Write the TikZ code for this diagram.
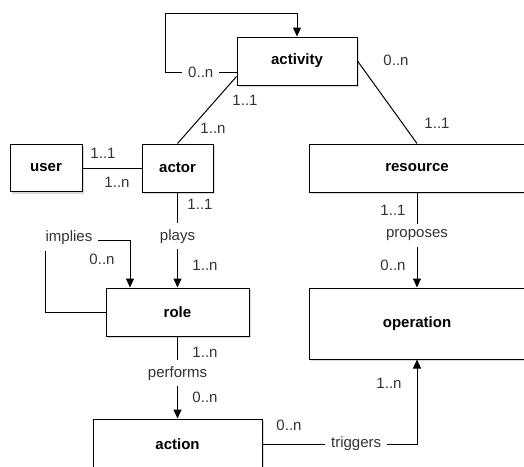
\documentclass[tikz,border=0pt]{standalone}
\usepackage{fontspec}
\setmainfont{Liberation Sans}
\usetikzlibrary{arrows.meta,shadows,calc}
\begin{document}
\begin{tikzpicture}[x=1pt,y=-1pt,
  box/.style={draw, line width=1pt, fill=white, inner sep=0pt, font=\fontsize{15}{18}\selectfont\bfseries, drop shadow={shadow xshift=2pt,shadow yshift=-2pt,opacity=0.3}},
  lbl/.style={font=\fontsize{15}{18}\selectfont, text=black!80, inner sep=0pt},
  gap/.style={lbl, fill=white, inner xsep=6pt, inner ysep=6pt},
  conn/.style={line width=1pt},
  arr/.style={conn, -{Triangle[length=9pt,width=8pt]}}
]
\useasboundingbox (0,0) rectangle (524,466);
\clip (0,0) rectangle (524,466);

% boxes
\node[box, minimum width=120, minimum height=48] (activity) at (297,61) {activity};
\node[box, minimum width=72, minimum height=47] (user) at (46,168) {user};
\node[box, minimum width=71, minimum height=48] (actor) at (177.5,168) {actor};
\node[box, minimum width=216, minimum height=48] (resource) at (417,168) {resource};
\node[box, minimum width=216, minimum height=71] (operation) at (417,323.5) {operation};
\node[box, minimum width=143, minimum height=48] (role) at (177.5,312) {role};
\node[box, minimum width=169, minimum height=50] (action) at (177.5,444) {action};

% activity self loop
\coordinate (aw) at ($(activity.west)+(0,11)$);
\coordinate (lp1) at (165,72);
\coordinate (lp2) at (165,13);
\coordinate (lp3) at (297,13);
\draw[arr] (aw) -- node[gap,pos=0.5] {0..n} (lp1) -- (lp2) -- (lp3) -- (activity.north);

% activity - actor
\coordinate (asw) at ($(activity.south west)+(0,-9)$);
\draw[conn] (asw) -- (actor.north);
\node[lbl] (m1) at (245,100) {1..1};
\node[lbl] (m2) at (213,128) {1..n};

% activity - resource
\draw[conn] (activity.east) -- (resource.north);
\node[lbl] (m3) at (396,60) {0..n};
\node[lbl] (m4) at (437,123) {1..1};

% user - actor
\draw[conn] (user.east) -- (actor.west);
\node[lbl] (m5) at (103,153) {1..1};
\node[lbl] (m6) at (117,182) {1..n};

% actor - role
\draw[arr] (actor.south) -- node[gap,pos=0.46] {plays} (role.north);
\node[lbl] (m7) at (200,204) {1..1};
\node[lbl] (m8) at (205,265) {1..n};

% implies loop
\coordinate (i1) at (45,312);
\coordinate (i2) at (45,240);
\coordinate (i3) at (130,240);
\draw[arr] (role.west) -- (i1) -- (i2) -- (i3) -- (i3 |- role.north);
\node[gap] (implies) at (69,238) {implies};
\node[lbl] (m9) at (102,259) {0..n};

% role - action
\draw[arr] (role.south) -- node[gap,pos=0.45] {performs} (action.north);
\node[lbl] (m10) at (205,352) {1..n};
\node[lbl] (m11) at (205,397) {0..n};

% resource - operation
\draw[arr] (resource.south) -- node[gap,pos=0.45] {proposes} (operation.north);
\node[lbl] (m12) at (393,210) {1..1};
\node[lbl] (m13) at (393,265) {0..n};

% action - operation
\draw[arr] (action.east) -- node[gap,pos=0.606] {triggers} (action.east -| operation.south) -- (operation.south);
\node[lbl] (m14) at (289,425) {0..n};
\node[lbl] (m15) at (389,383) {1..n};
\end{tikzpicture}
\end{document}
